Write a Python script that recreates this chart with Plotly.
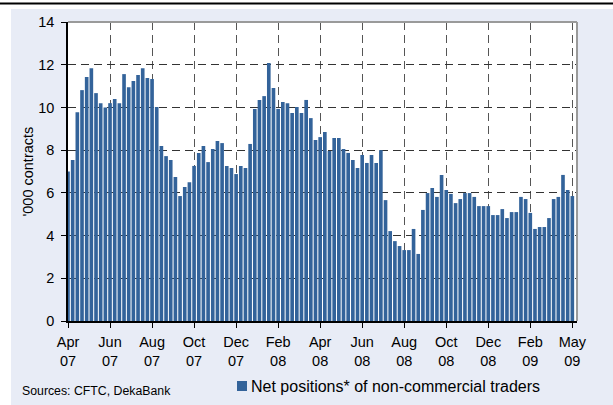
import plotly.graph_objects as go

# Weekly net positions of non-commercial traders ('000 contracts), Apr 2007 - May 2009
net_positions = [
    7.0, 7.54, 9.78, 10.81, 11.42, 11.84, 10.67, 10.2, 10.0, 10.2,
    10.39, 10.2, 11.56, 10.95, 11.24, 11.52, 11.84, 11.38, 11.33, 10.02,
    8.19, 7.72, 7.54, 6.74, 5.85, 6.27, 6.5, 7.26, 7.87, 8.19,
    7.44, 8.05, 8.43, 8.33, 7.26, 7.16, 6.88, 7.26, 7.16, 8.29,
    9.93, 10.35, 10.53, 12.08, 10.91, 9.93, 10.25, 10.2, 9.74, 10.02,
    9.74, 10.35, 9.5, 8.47, 8.61, 8.85, 7.96, 8.57, 8.57, 8.05,
    7.87, 7.54, 7.16, 7.77, 7.4, 7.77, 7.4, 8.0, 5.66, 4.21,
    3.74, 3.51, 3.32, 3.32, 4.31, 3.14, 5.2, 5.99, 6.23, 5.81,
    6.84, 6.13, 5.95, 5.52, 5.71, 5.99, 5.99, 5.81, 5.38, 5.38,
    5.38, 4.96, 4.96, 5.24, 4.82, 5.1, 5.1, 5.81, 5.71, 5.06,
    4.31, 4.4, 4.4, 4.82, 5.71, 5.81, 6.84, 6.13, 5.85,
]
weeks = list(range(len(net_positions)))

tick_labels = ["Apr<br>07", "Jun<br>07", "Aug<br>07", "Oct<br>07", "Dec<br>07",
               "Feb<br>08", "Apr<br>08", "Jun<br>08", "Aug<br>08", "Oct<br>08",
               "Dec<br>08", "Feb<br>09", "May<br>09"]
tick_weeks = [0, 9, 18, 27, 36, 45, 54, 63, 72, 81, 90, 99, 108]

series_name = "Net positions* of non-commercial traders"
source_text = "Sources: CFTC, DekaBank"
y_title = "'000 contracts"

W, H = 613, 405
L, R, T, B = 68, 577, 22, 321
FONT = "Arial, Liberation Sans, sans-serif"
BAR = "#33639a"
PANEL = "#e8ecf6"


def fx(px):
    return (px - L) / (R - L)


def fy(py):
    return (B - py) / (B - T)


fig = go.Figure()
fig.add_trace(go.Bar(
    x=weeks, y=net_positions, name=series_name,
    marker=dict(color=BAR, line=dict(width=0)),
    width=0.78, showlegend=False,
))

shapes = [
    # white outer border strips
    dict(type="rect", xref="paper", yref="paper", x0=fx(-5), x1=fx(11), y0=fy(410), y1=fy(-5),
         fillcolor="white", line=dict(width=0), layer="above"),
    dict(type="rect", xref="paper", yref="paper", x0=fx(-5), x1=fx(620), y0=fy(9), y1=fy(-5),
         fillcolor="white", line=dict(width=0), layer="above"),
    # top black rule
    dict(type="line", xref="paper", yref="paper", x0=fx(0), x1=fx(613), y0=fy(3.5), y1=fy(3.5),
         line=dict(color="black", width=2), layer="above"),
    # gray frame top & right
    dict(type="line", xref="paper", yref="paper", x0=0, x1=1, y0=1, y1=1,
         line=dict(color="#9a9a9a", width=2), layer="above"),
    dict(type="line", xref="paper", yref="paper", x0=1, x1=1, y0=0, y1=1,
         line=dict(color="#9a9a9a", width=2), layer="above"),
    # legend square
    dict(type="rect", xref="paper", yref="paper", x0=fx(237), x1=fx(247), y0=fy(391), y1=fy(381),
         fillcolor=BAR, line=dict(width=0), layer="above"),
]

annotations = [
    dict(text=y_title, xref="paper", yref="paper", x=fx(27), y=0.5, textangle=-90,
         showarrow=False, xanchor="center", yanchor="middle",
         font=dict(family=FONT, size=14.5, color="black")),
    dict(text=source_text, xref="paper", yref="paper", x=fx(20), y=fy(391),
         showarrow=False, xanchor="left", yanchor="middle",
         font=dict(family=FONT, size=12.3, color="black")),
    dict(text=series_name, xref="paper", yref="paper", x=fx(249), y=fy(386),
         showarrow=False, xanchor="left", yanchor="middle",
         font=dict(family=FONT, size=16, color="black")),
]

fig.update_layout(
    width=W, height=H,
    margin=dict(l=L, r=W - R, t=T, b=H - B, pad=0),
    paper_bgcolor=PANEL, plot_bgcolor="white",
    font=dict(family=FONT, size=14, color="black"),
    shapes=shapes, annotations=annotations,
    showlegend=False,
)
fig.update_xaxes(
    range=[0, 109], tickmode="array", tickvals=tick_weeks, ticktext=tick_labels,
    showgrid=True, gridcolor="#555555", griddash="8px,5px", gridwidth=1,
    showline=True, linecolor="black", linewidth=1.5,
    ticks="outside", ticklen=5, tickcolor="black", tickwidth=1,
    zeroline=False, tickangle=0, fixedrange=True,
    tickfont=dict(size=14.5), ticklabelstandoff=2,
)
fig.update_yaxes(
    range=[0, 14], tickmode="array", tickvals=[0, 2, 4, 6, 8, 10, 12, 14],
    showgrid=True, gridcolor="#333333", griddash="8px,5px", gridwidth=1,
    showline=True, linecolor="black", linewidth=1.5,
    ticks="outside", ticklen=5, tickcolor="black", tickwidth=1,
    zeroline=False, ticklabelstandoff=4, fixedrange=True,
    tickfont=dict(size=14.5),
)

fig.write_html(
    "out.html",
    config={"displayModeBar": False},
    post_script="document.body.style.margin='0';document.body.style.overflow='hidden';",
)
